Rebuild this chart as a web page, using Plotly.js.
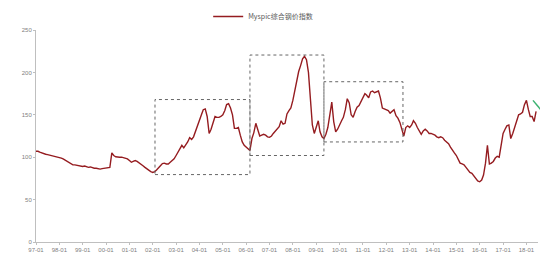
<!DOCTYPE html>
<html>
<head>
<meta charset="utf-8">
<script src="https://cdn.plot.ly/plotly-3.0.1.min.js"></script>
<style>html,body{margin:0;padding:0;background:#fff;}#chart{width:540px;height:270px;}</style>
</head>
<body>
<div id="chart"></div>
<script>
// Monthly Myspic composite steel price index, 1997-01 .. 2018-06
const seriesName = "Myspic综合钢价指数";
const startYear = 1997;
const index = [
  // 1997
  107, 107, 106, 105, 104, 103.5, 103, 102.5, 102, 101.5, 101, 100.5,
  // 1998
  100, 99, 98, 96.5, 95, 93.5, 92, 91, 91, 90.5, 90, 89.5,
  // 1999
  89, 89.5, 88.5, 88, 88.5, 87.5, 87, 87, 86.5, 86, 86.5, 87,
  // 2000
  87, 87.5, 88, 105, 102, 100.5, 100, 100, 100, 99.5, 99, 98,
  // 2001
  96, 94, 95, 96, 95, 93.5, 92, 90, 88, 86, 84.5, 83,
  // 2002
  82, 83, 85, 87, 90, 92.5, 93, 92, 92, 94, 96, 98,
  // 2003
  102, 106, 111, 114, 111, 114, 118, 123, 121, 124, 130, 137,
  // 2004
  143, 150, 156, 157, 148, 128, 133, 140, 148, 147, 147, 148,
  // 2005
  150, 155, 162, 163, 158, 150, 134, 134, 135, 126, 118, 114,
  // 2006
  112, 110, 108, 122, 129, 140, 133, 125, 126, 127, 126, 124,
  // 2007
  123.5, 125, 128, 131, 134, 136, 143, 139, 140, 151, 155, 158,
  // 2008
  167, 180, 193, 201, 208, 216, 219, 215, 200, 168, 138, 128,
  // 2009
  136, 143, 130, 124, 122, 127, 135, 148, 165, 142, 130, 133,
  // 2010
  139, 143, 147, 156, 169, 164, 150, 147, 154, 159, 161, 165,
  // 2011
  170, 175, 173, 170, 177, 178, 176, 177, 178, 170, 158, 157,
  // 2012
  156, 155, 152, 154, 156, 149, 146, 141, 133, 125, 135, 137,
  // 2013
  135, 138, 143, 140, 135, 131, 127, 131, 133, 131, 128, 128,
  // 2014
  127, 126, 124, 123, 124, 123, 120, 118, 116, 112, 108, 105,
  // 2015
  102, 98, 93, 92, 91, 88, 85, 82, 81, 78, 75, 72,
  // 2016
  71, 73, 79, 93, 114, 92, 93, 95, 99, 101, 100, 112,
  // 2017
  128, 133, 137, 138, 122, 128, 136, 142, 150, 151, 153, 162,
  // 2018
  167, 156, 148, 148, 142, 154
];
const tickLabelsStart = "1997-01-01";
const yTicks = [0, 50, 100, 150, 200, 250];

// highlighted phases (dashed boxes): start date, end date, low, high
const boxStart = ["2002-02-05", "2006-03-01", "2009-05-01"];
const boxEnd   = ["2006-03-01", "2009-05-01", "2012-09-18"];
const boxLow   = [79.5, 102, 118];
const boxHigh  = [168, 220.5, 189];

const dates = index.map((v, i) => {
  const y = startYear + Math.floor(i / 12);
  const m = (i % 12) + 1;
  return y + "-" + (m < 10 ? "0" + m : m) + "-01";
});

const trace = {
  x: dates, y: index, type: "scatter", mode: "lines", name: seriesName,
  line: {color: "#951C20", width: 1.4}
};

const shapes = boxStart.map((s, i) => ({
  type: "rect", xref: "x", yref: "y",
  x0: s, x1: boxEnd[i], y0: boxLow[i], y1: boxHigh[i],
  line: {color: "#666", width: 1, dash: "dot"}, fillcolor: "rgba(0,0,0,0)"
}));
shapes.push({type: "line", xref: "paper", yref: "paper", x0: 0.990, x1: 1.006, y0: 0.668, y1: 0.623,
  line: {color: "#3CB371", width: 1.5}});

const layout = {
  width: 540, height: 270,
  margin: {l: 36, r: 2, t: 22, b: 28},
  paper_bgcolor: "#fff", plot_bgcolor: "#fff",
  font: {family: "Liberation Sans, Arial, sans-serif", size: 7, color: "#7f7f7f"},
  showlegend: true,
  legend: {orientation: "h", x: 0.343, xanchor: "left", y: 1.064, yanchor: "middle",
    font: {size: 7, color: "#595959", family: "Noto Sans CJK SC, sans-serif"},
    itemwidth: 30, bgcolor: "rgba(0,0,0,0)"},
  xaxis: {
    type: "date", range: ["1997-01-01", "2018-07-01"],
    tick0: tickLabelsStart, dtick: "M12", tickformat: "%y-%m",
    showgrid: false, zeroline: false, showline: true, linecolor: "#BFBFBF", linewidth: 1,
    ticks: "outside", ticklen: 2, tickcolor: "#BFBFBF",
    tickfont: {size: 6, color: "#808080"}
  },
  yaxis: {
    range: [0, 250], tickvals: yTicks,
    showgrid: false, zeroline: false, showline: true, linecolor: "#BFBFBF", linewidth: 1,
    ticks: "outside", ticklen: 2, tickcolor: "#BFBFBF",
    tickfont: {size: 6, color: "#808080"}
  },
  shapes: shapes
};

Plotly.newPlot("chart", [trace], layout, {staticPlot: true, displayModeBar: false});
</script>
</body>
</html>
